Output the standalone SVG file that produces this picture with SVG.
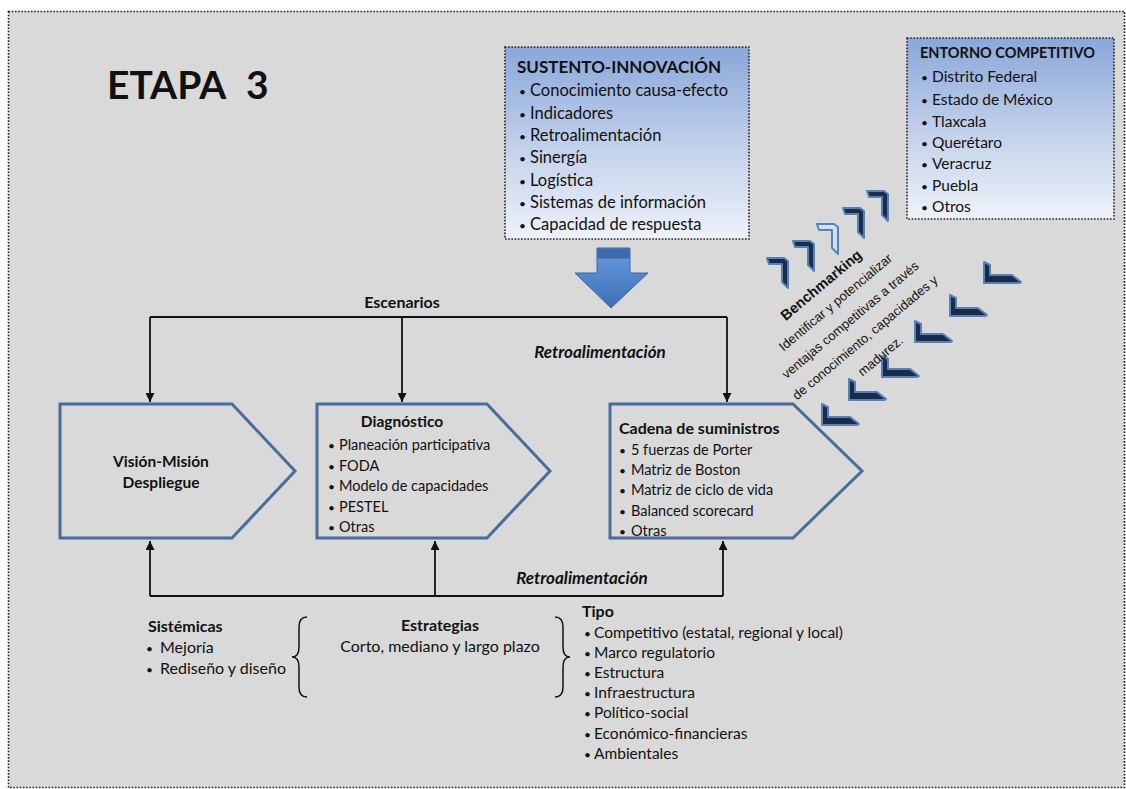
<svg xmlns="http://www.w3.org/2000/svg" width="1126" height="789" viewBox="0 0 1126 789">
<style>
text{font-family:Lato,"Open Sans","Liberation Sans",sans-serif;fill:#111}
.b{font-weight:bold}
.bi{font-weight:bold;font-style:italic}
.box{stroke:#222;stroke-width:1.6;stroke-dasharray:1.6 1.6}
.pent{fill:none;stroke:#4a6c9b;stroke-width:3}
.con{fill:none;stroke:#111;stroke-width:1.8}
.l16{font-size:16.5px}
.l15{font-size:14.5px}
.l14{font-size:15.5px}
.bot{font-size:16px}
.bu{font-size:12px}
.bm{font-family:"Liberation Sans",Arial,sans-serif;font-size:13px}
.ch{fill:#1b2c48;stroke:#5580b8;stroke-width:2;stroke-linejoin:round}
</style>
<defs>
<linearGradient id="bg" x1="0" y1="0" x2="0" y2="1">
<stop offset="0" stop-color="#8aa7da"/>
<stop offset="0.5" stop-color="#c0cfe9"/>
<stop offset="1" stop-color="#eef2f9"/>
</linearGradient>
<linearGradient id="ag" x1="0" y1="0" x2="0" y2="1">
<stop offset="0" stop-color="#6a9be0"/>
<stop offset="1" stop-color="#3d6fb6"/>
</linearGradient>
<marker id="ah" viewBox="0 0 10 10" refX="10" refY="5" markerUnits="userSpaceOnUse" markerWidth="10" markerHeight="9" orient="auto">
<path d="M0,0 L10,5 L0,10 z" fill="#111"/>
</marker>
<path id="seven" d="M0,0 H17 L21,3 V30 L15,24 V6 H2 Z"/>
<path id="ell" d="M0,0 L6,3 V13 H28 L37,20 L35,21 H0 Z"/>
</defs>

<rect x="8.5" y="11.5" width="1116" height="776" fill="#d9d9d9" class="box"/>

<g id="title"><text class="b" style="font-size:39px" x="107" y="99"><tspan x="107">ETAPA</tspan><tspan x="246">3</tspan></text></g>

<g id="sustento">
<rect x="505" y="47" width="244" height="192" fill="url(#bg)" class="box"/>
<text class="b" style="font-size:17px" x="517" y="73">SUSTENTO-INNOVACIÓN</text>
<g class="l16">
<text y="96"><tspan class="bu" x="519">•</tspan><tspan x="530">Conocimiento causa-efecto</tspan></text>
<text y="119"><tspan class="bu" x="519">•</tspan><tspan x="530">Indicadores</tspan></text>
<text y="141"><tspan class="bu" x="519">•</tspan><tspan x="530">Retroalimentación</tspan></text>
<text y="163"><tspan class="bu" x="519">•</tspan><tspan x="530">Sinergía</tspan></text>
<text y="186"><tspan class="bu" x="519">•</tspan><tspan x="530">Logística</tspan></text>
<text y="208"><tspan class="bu" x="519">•</tspan><tspan x="530">Sistemas de información</tspan></text>
<text y="230"><tspan class="bu" x="519">•</tspan><tspan x="530">Capacidad de respuesta</tspan></text>
</g>
</g>

<g id="arrow-down">
<path d="M597,248 H630 V273 H648 L611,308 L575,273 H597 Z" fill="url(#ag)" stroke="#3c66a6" stroke-width="1"/>
<rect x="597.5" y="248.5" width="32" height="10" fill="#3e69ab"/>
</g>

<g id="entorno">
<rect x="907" y="38" width="207" height="181" fill="url(#bg)" class="box"/>
<text class="b" style="font-size:14.5px" x="920" y="58">ENTORNO COMPETITIVO</text>
<g style="font-size:15.5px">
<text y="82"><tspan class="bu" x="921">•</tspan><tspan x="932">Distrito Federal</tspan></text>
<text y="105"><tspan class="bu" x="921">•</tspan><tspan x="932">Estado de México</tspan></text>
<text y="127"><tspan class="bu" x="921">•</tspan><tspan x="932">Tlaxcala</tspan></text>
<text y="148"><tspan class="bu" x="921">•</tspan><tspan x="932">Querétaro</tspan></text>
<text y="169"><tspan class="bu" x="921">•</tspan><tspan x="932">Veracruz</tspan></text>
<text y="191"><tspan class="bu" x="921">•</tspan><tspan x="932">Puebla</tspan></text>
<text y="212"><tspan class="bu" x="921">•</tspan><tspan x="932">Otros</tspan></text>
</g>
</g>

<g id="benchmarking">
<use href="#seven" x="767" y="258" class="ch"/>
<use href="#seven" x="793" y="241" class="ch"/>
<use href="#seven" x="817" y="224" style="fill:#d4deee;stroke:#5580b8;stroke-width:2;stroke-linejoin:round"/>
<use href="#seven" x="843" y="208" class="ch"/>
<use href="#seven" x="867" y="191" class="ch"/>
<use href="#ell" x="984" y="262" class="ch"/>
<use href="#ell" x="950" y="295" class="ch"/>
<use href="#ell" x="915" y="321" class="ch"/>
<use href="#ell" x="882" y="356" class="ch"/>
<use href="#ell" x="849" y="379" class="ch"/>
<use href="#ell" x="822" y="404" class="ch"/>
<g transform="translate(821,285) rotate(-40)">
<text class="bm" style="font-weight:bold;font-size:14.5px" x="0" y="5" text-anchor="middle">Benchmarking</text>
<text class="bm" x="0" y="27" text-anchor="middle">Identificar y potencializar</text>
<text class="bm" x="0" y="50" text-anchor="middle">ventajas competitivas a través</text>
<text class="bm" x="0" y="73" text-anchor="middle">de conocimiento, capacidades y</text>
<text class="bm" x="0" y="97" text-anchor="middle">madurez.</text>
</g>
</g>

<g id="connectors">
<path class="con" d="M150,317 H727"/>
<path class="con" d="M150,317 V402" marker-end="url(#ah)"/>
<path class="con" d="M402,317 V402" marker-end="url(#ah)"/>
<path class="con" d="M727,317 V402" marker-end="url(#ah)"/>
<path class="con" d="M150,596 H723"/>
<path class="con" d="M150,596 V541" marker-end="url(#ah)"/>
<path class="con" d="M435,596 V541" marker-end="url(#ah)"/>
<path class="con" d="M723,596 V541" marker-end="url(#ah)"/>
<text class="b" style="font-size:16px" x="402" y="308" text-anchor="middle">Escenarios</text>
<text class="bi" style="font-size:17px" x="600" y="358" text-anchor="middle">Retroalimentación</text>
<text class="bi" style="font-size:17px" x="582" y="584" text-anchor="middle">Retroalimentación</text>
</g>

<g id="vision">
<path class="pent" d="M60,404 H232 L295,471 L232,538 H60 Z"/>
<text class="b l14" x="161" y="467" text-anchor="middle">Visión-Misión</text>
<text class="b l14" x="161" y="488" text-anchor="middle">Despliegue</text>
</g>

<g id="diagnostico">
<path class="pent" d="M317,404 H487 L550,471 L487,538 H317 Z"/>
<text class="b l14" x="402" y="427" text-anchor="middle">Diagnóstico</text>
<g class="l15">
<text y="450"><tspan class="bu" x="328">•</tspan><tspan x="339">Planeación participativa</tspan></text>
<text y="471"><tspan class="bu" x="328">•</tspan><tspan x="339">FODA</tspan></text>
<text y="491"><tspan class="bu" x="328">•</tspan><tspan x="339">Modelo de capacidades</tspan></text>
<text y="512"><tspan class="bu" x="328">•</tspan><tspan x="339">PESTEL</tspan></text>
<text y="532"><tspan class="bu" x="328">•</tspan><tspan x="339">Otras</tspan></text>
</g>
</g>

<g id="cadena">
<path class="pent" d="M610,404 H793 L862,471 L793,538 H610 Z"/>
<text class="b" style="font-size:16px" x="619" y="434">Cadena de suministros</text>
<g class="l15">
<text y="455"><tspan class="bu" x="619">•</tspan><tspan x="631">5 fuerzas de Porter</tspan></text>
<text y="475"><tspan class="bu" x="619">•</tspan><tspan x="631">Matriz de Boston</tspan></text>
<text y="495"><tspan class="bu" x="619">•</tspan><tspan x="631">Matriz de ciclo de vida</tspan></text>
<text y="516"><tspan class="bu" x="619">•</tspan><tspan x="631">Balanced scorecard</tspan></text>
<text y="536"><tspan class="bu" x="619">•</tspan><tspan x="631">Otras</tspan></text>
</g>
</g>

<g id="sistemicas">
<text class="b bot" x="148" y="632">Sistémicas</text>
<g class="bot">
<text y="653"><tspan class="bu" x="146">•</tspan><tspan x="160">Mejoría</tspan></text>
<text y="674"><tspan class="bu" x="146">•</tspan><tspan x="160">Rediseño y diseño</tspan></text>
</g>
</g>

<g id="estrategias">
<path class="con" style="stroke-width:1.5" d="M307,617 Q299,617 299,627 L299,647 Q299,657 292,657 Q299,657 299,667 L299,687 Q299,697 307,697"/>
<path class="con" style="stroke-width:1.5" d="M555,617 Q563,617 563,627 L563,647 Q563,657 570,657 Q563,657 563,667 L563,687 Q563,697 555,697"/>
<text class="b bot" x="440" y="631" text-anchor="middle">Estrategias</text>
<text class="bot" x="440" y="652" text-anchor="middle">Corto, mediano y largo plazo</text>
</g>

<g id="tipo">
<text class="b bot" x="582" y="617">Tipo</text>
<g style="font-size:15.5px">
<text y="638"><tspan class="bu" x="584">•</tspan><tspan x="594">Competitivo (estatal, regional y local)</tspan></text>
<text y="658"><tspan class="bu" x="584">•</tspan><tspan x="594">Marco regulatorio</tspan></text>
<text y="678"><tspan class="bu" x="584">•</tspan><tspan x="594">Estructura</tspan></text>
<text y="698"><tspan class="bu" x="584">•</tspan><tspan x="594">Infraestructura</tspan></text>
<text y="718"><tspan class="bu" x="584">•</tspan><tspan x="594">Político-social</tspan></text>
<text y="739"><tspan class="bu" x="584">•</tspan><tspan x="594">Económico-financieras</tspan></text>
<text y="759"><tspan class="bu" x="584">•</tspan><tspan x="594">Ambientales</tspan></text>
</g>
</g>
</svg>
